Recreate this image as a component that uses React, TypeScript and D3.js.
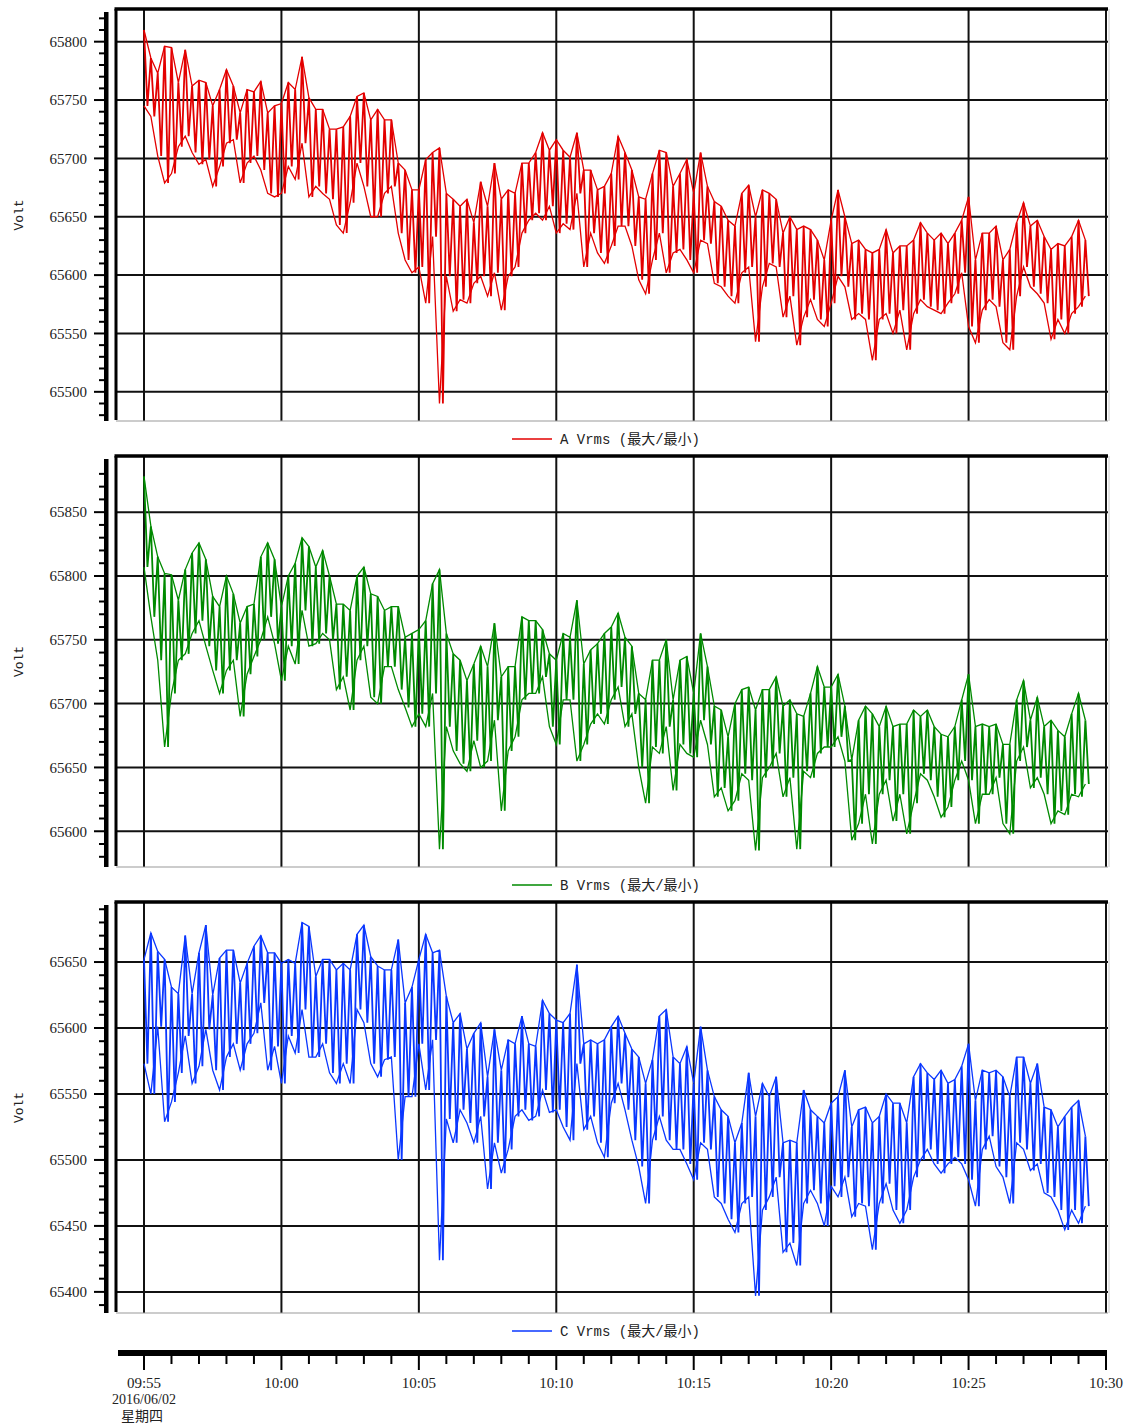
import React, { useEffect, useRef } from 'react';
import * as d3 from 'd3';

// sampling grid: one max/min pair every 15 s from 09:55:00
const startTime = new Date(2016, 5, 2, 9, 55, 0);
const endTime = new Date(2016, 5, 2, 10, 30, 0);
const sampleSeconds = 15;

const aMax = [
  65810, 65786, 65773, 65796, 65795, 65765, 65793, 65762,
  65767, 65765, 65745, 65759, 65776, 65762, 65739, 65759,
  65757, 65766, 65739, 65745, 65747, 65765, 65759, 65787,
  65752, 65742, 65742, 65725, 65725, 65727, 65736, 65753,
  65756, 65733, 65742, 65733, 65733, 65696, 65690, 65673,
  65673, 65699, 65705, 65709, 65670, 65665, 65659, 65665,
  65645, 65680, 65659, 65696, 65665, 65673, 65670, 65696,
  65696, 65705, 65722, 65707, 65716, 65707, 65701, 65722,
  65690, 65690, 65673, 65676,
  65687, 65719, 65705, 65690, 65667, 65665, 65687, 65707,
  65705, 65676, 65687, 65699, 65670, 65705, 65676, 65663,
  65659, 65647, 65642, 65670, 65677, 65650, 65673, 65670,
  65665, 65636, 65650, 65639, 65642, 65639, 65630, 65613,
  65647, 65673, 65650, 65627, 65630, 65622, 65619, 65622,
  65639, 65619, 65625, 65625, 65630, 65645, 65636, 65630,
  65636, 65627, 65636, 65647, 65667, 65613, 65636, 65636,
  65642, 65613, 65622, 65645, 65662, 65642, 65647, 65633,
  65622, 65627, 65625, 65633, 65647, 65630,
];
const aMin = [
  65745, 65736, 65702, 65679, 65687, 65710, 65719, 65705,
  65695, 65699, 65676, 65693, 65713, 65716, 65679, 65696,
  65702, 65690, 65670, 65667, 65670, 65693, 65682, 65713,
  65667, 65676, 65670, 65665, 65643, 65636, 65662, 65696,
  65676, 65650, 65650, 65670, 65676, 65636, 65613, 65602,
  65607, 65576, 65633, 65490, 65599, 65569, 65579, 65576,
  65593, 65599, 65582, 65602, 65570, 65599, 65607, 65636,
  65647, 65653, 65647, 65659, 65636, 65644, 65639, 65670,
  65607, 65636, 65619, 65610,
  65625, 65642, 65642, 65625, 65596, 65584, 65613, 65636,
  65602, 65619, 65622, 65613, 65602, 65630, 65627, 65593,
  65590, 65582, 65576, 65602, 65607, 65543, 65590, 65610,
  65607, 65564, 65582, 65540, 65564, 65579, 65562, 65556,
  65576, 65599, 65590, 65562, 65567, 65562, 65527, 65562,
  65567, 65550, 65570, 65536, 65567, 65579, 65573, 65570,
  65567, 65576, 65584, 65602, 65556, 65542, 65570, 65579,
  65573, 65542, 65536, 65582, 65607, 65590, 65584, 65576,
  65545, 65562, 65550, 65567, 65573, 65582,
];

const bMax = [
  65878, 65839, 65815, 65802, 65801, 65781, 65805, 65818,
  65826, 65813, 65784, 65776, 65800, 65786, 65763, 65776,
  65778, 65815, 65826, 65813, 65776, 65800, 65810, 65830,
  65823, 65807, 65820, 65800, 65778, 65778, 65773, 65800,
  65807, 65786, 65784, 65773, 65776, 65776, 65752, 65755,
  65758, 65765, 65794, 65805, 65755, 65739, 65734, 65718,
  65731, 65745, 65729, 65763, 65721, 65729, 65729, 65768,
  65765, 65765, 65758, 65739, 65734, 65755, 65752, 65781,
  65731, 65742, 65747, 65755,
  65760, 65771, 65752, 65745, 65708, 65703, 65734, 65734,
  65750, 65703, 65734, 65737, 65708, 65755, 65729, 65698,
  65695, 65674, 65700, 65711, 65713, 65695, 65711, 65711,
  65721, 65698, 65703, 65692, 65690, 65708, 65729, 65713,
  65713, 65723, 65698, 65656, 65687, 65698, 65692, 65682,
  65698, 65682, 65684, 65684, 65695, 65690, 65695, 65682,
  65676, 65674, 65682, 65703, 65723, 65682, 65684, 65682,
  65684, 65668, 65668, 65703, 65718, 65687, 65705, 65682,
  65687, 65679, 65674, 65692, 65708, 65687,
];
const bMin = [
  65807, 65768, 65734, 65666, 65708, 65734, 65739, 65755,
  65765, 65745, 65726, 65708, 65726, 65734, 65690, 65723,
  65737, 65750, 65768, 65747, 65718, 65745, 65731, 65773,
  65745, 65747, 65755, 65750, 65711, 65721, 65695, 65734,
  65745, 65705, 65700, 65729, 65729, 65711, 65697, 65682,
  65692, 65682, 65708, 65586, 65682, 65663, 65653, 65647,
  65671, 65650, 65655, 65687, 65616, 65663, 65674, 65703,
  65708, 65708, 65721, 65682, 65668, 65703, 65703, 65655,
  65668, 65684, 65692, 65684,
  65703, 65713, 65682, 65692, 65650, 65622, 65666, 65661,
  65682, 65632, 65668, 65661, 65658, 65687, 65668, 65627,
  65634, 65616, 65624, 65645, 65640, 65585, 65642, 65650,
  65661, 65627, 65642, 65586, 65647, 65642, 65661, 65666,
  65666, 65674, 65655, 65593, 65606, 65629, 65590, 65629,
  65640, 65608, 65629, 65598, 65622, 65645, 65640, 65627,
  65611, 65619, 65640, 65655, 65640, 65606, 65629, 65629,
  65642, 65606, 65598, 65655, 65666, 65634, 65642, 65629,
  65606, 65616, 65613, 65629, 65627, 65637,
];

const cMax = [
  65652, 65672, 65658, 65652, 65631, 65626, 65670, 65626,
  65657, 65678, 65625, 65653, 65659, 65659, 65634, 65649,
  65662, 65670, 65657, 65657, 65649, 65652, 65649, 65680,
  65677, 65639, 65652, 65652, 65644, 65649, 65644, 65671,
  65678, 65654, 65647, 65644, 65644, 65667, 65619, 65631,
  65652, 65671, 65657, 65659, 65624, 65604, 65611, 65584,
  65596, 65604, 65563, 65599, 65568, 65591, 65588, 65609,
  65588, 65586, 65621, 65611, 65606, 65604, 65611, 65648,
  65588, 65591, 65588, 65591,
  65601, 65609, 65596, 65584, 65578, 65558, 65576, 65609,
  65614, 65578, 65573, 65586, 65558, 65601, 65568, 65548,
  65538, 65533, 65513, 65528, 65566, 65533, 65558, 65548,
  65563, 65513, 65515, 65513, 65553, 65538, 65533, 65528,
  65543, 65548, 65568, 65525, 65538, 65540, 65528, 65533,
  65550, 65543, 65543, 65528, 65563, 65573, 65566, 65561,
  65568, 65558, 65561, 65571, 65588, 65545, 65568, 65566,
  65568, 65563, 65548, 65578, 65578, 65558, 65573, 65540,
  65538, 65525, 65533, 65540, 65545, 65518,
];
const cMin = [
  65573, 65550, 65601, 65529, 65544, 65566, 65594, 65558,
  65571, 65599, 65568, 65553, 65578, 65588, 65568, 65588,
  65596, 65619, 65568, 65586, 65558, 65594, 65581, 65614,
  65578, 65578, 65588, 65566, 65558, 65573, 65558, 65614,
  65604, 65573, 65563, 65576, 65578, 65500, 65548, 65548,
  65588, 65553, 65591, 65424, 65531, 65513, 65538, 65528,
  65513, 65533, 65478, 65513, 65490, 65508, 65533, 65538,
  65530, 65533, 65553, 65536, 65538, 65525, 65515, 65573,
  65523, 65533, 65513, 65502,
  65543, 65558, 65538, 65515, 65495, 65467, 65515, 65533,
  65515, 65508, 65508, 65497, 65485, 65513, 65508, 65472,
  65467, 65455, 65445, 65467, 65472, 65397, 65462, 65472,
  65487, 65430, 65437, 65420, 65467, 65477, 65467, 65450,
  65480, 65472, 65487, 65457, 65467, 65465, 65432, 65467,
  65482, 65462, 65452, 65462, 65487, 65500, 65508, 65497,
  65490, 65497, 65502, 65497, 65485, 65465, 65508, 65518,
  65495, 65487, 65467, 65513, 65508, 65492, 65497, 65475,
  65472, 65462, 65447, 65462, 65452, 65465,
];

const seriesNames = ['A Vrms (最大/最小)', 'B Vrms (最大/最小)', 'C Vrms (最大/最小)'];
const aTicks = [65500, 65550, 65600, 65650, 65700, 65750, 65800];
const bTicks = [65600, 65650, 65700, 65750, 65800, 65850];
const cTicks = [65400, 65450, 65500, 65550, 65600, 65650];
const dateLabel = '2016/06/02';
const weekdayLabel = '星期四';

const W = 1131;
const H = 1425;
const X0 = 116;
const X1 = 1108;

const numFont = '"Liberation Serif", "DejaVu Serif", serif';
const monoFont = '"Liberation Mono", "DejaVu Sans Mono", "Noto Sans CJK SC", monospace';

const App = () => {
  const ref = useRef<SVGSVGElement>(null);

  useEffect(() => {
    const svg = d3.select(ref.current);
    svg.selectAll('*').remove();

    const x = d3.scaleTime().domain([startTime, endTime]).range([144, 1106]);
    const time = (i: number) => new Date(startTime.getTime() + i * sampleSeconds * 1000);

    const panels = [
      { max: aMax, min: aMin, ticks: aTicks, domain: [65475, 65828], top: 9, bottom: 421, color: '#e30000', name: seriesNames[0] },
      { max: bMax, min: bMin, ticks: bTicks, domain: [65572, 65894], top: 456, bottom: 867, color: '#008a00', name: seriesNames[1] },
      { max: cMax, min: cMin, ticks: cTicks, domain: [65384, 65695.5], top: 902, bottom: 1313, color: '#0a37ff', name: seriesNames[2] },
    ];

    const fiveMin = d3.timeMinute.every(5)!.range(startTime, new Date(endTime.getTime() + 1));
    const everyMin = d3.timeMinute.range(startTime, new Date(endTime.getTime() + 1));

    panels.forEach((p, k) => {
      const y = d3.scaleLinear().domain(p.domain).range([p.bottom, p.top]);
      const g = svg.append('g');

      // grid
      g.selectAll('.hg').data(p.ticks).enter().append('line')
        .attr('x1', X0).attr('x2', X1)
        .attr('y1', d => y(d)).attr('y2', d => y(d))
        .attr('stroke', '#111').attr('stroke-width', 2);
      g.selectAll('.vg').data(fiveMin).enter().append('line')
        .attr('x1', d => x(d)).attr('x2', d => x(d))
        .attr('y1', p.top).attr('y2', p.bottom)
        .attr('stroke', '#111').attr('stroke-width', 2);

      const clipId = 'clip' + k;
      svg.append('clipPath').attr('id', clipId).append('rect')
        .attr('x', X0).attr('y', p.top).attr('width', X1 - X0).attr('height', p.bottom - p.top);
      const data = g.append('g').attr('clip-path', `url(#${clipId})`)
        .attr('fill', 'none').attr('stroke', p.color);

      // max trace and min trace
      const track = d3.line<number>()
        .x((_, i) => x(time(i))).y(d => y(d));
      data.append('path').attr('d', track(p.max)).attr('stroke-width', 1.3);
      data.append('path').attr('d', track(p.min)).attr('stroke-width', 1.3);

      // max then min of each window, joined into one zigzag trace
      const pts: [Date, number][] = [];
      p.max.forEach((v, i) => {
        pts.push([time(i), v]);
        pts.push([time(i + 0.5), p.min[i]]);
      });
      const zig = d3.line<[Date, number]>().x(d => x(d[0])).y(d => y(d[1]));
      data.append('path').datum(pts)
        .attr('d', zig)
        .attr('stroke-width', 1.8)
        .attr('stroke-linejoin', 'miter')
        .attr('stroke-miterlimit', 2);

      // frame
      g.append('line').attr('x1', X0).attr('x2', X1).attr('y1', p.bottom).attr('y2', p.bottom)
        .attr('stroke', '#9a9a9a').attr('stroke-width', 1.2);
      g.append('line').attr('x1', X1 + 1).attr('x2', X1 + 1).attr('y1', p.top).attr('y2', p.bottom)
        .attr('stroke', '#c8c8c8').attr('stroke-width', 1);
      g.append('line').attr('x1', X0 - 1.5).attr('x2', X1).attr('y1', p.top).attr('y2', p.top)
        .attr('stroke', '#000').attr('stroke-width', 3.5);
      g.append('line').attr('x1', X0).attr('x2', X0).attr('y1', p.top).attr('y2', p.bottom - 1)
        .attr('stroke', '#000').attr('stroke-width', 3);

      // y axis
      const minor = d3.range(Math.ceil(p.domain[0] / 10) * 10, p.domain[1] - 4, 10);
      g.append('rect').attr('x', 104).attr('y', p.top + 3).attr('width', 4.5).attr('height', p.bottom - p.top - 3)
        .attr('fill', '#000');
      g.selectAll('.mt').data(minor).enter().append('line')
        .attr('x1', d => (d % 50 === 0 ? 94 : 99)).attr('x2', 105)
        .attr('y1', d => y(d)).attr('y2', d => y(d))
        .attr('stroke', '#000').attr('stroke-width', 2);
      g.selectAll('.yl').data(p.ticks).enter().append('text')
        .attr('x', 87).attr('y', d => y(d)).attr('dy', '0.35em')
        .attr('text-anchor', 'end')
        .attr('font-family', numFont).attr('font-size', 15).attr('fill', '#222')
        .text(d => String(d));
      g.append('text')
        .attr('transform', `translate(23,${(p.top + p.bottom) / 2}) rotate(-90)`)
        .attr('text-anchor', 'middle')
        .attr('font-family', monoFont).attr('font-size', 13).attr('fill', '#222')
        .text('Volt');

      // legend
      const ly = p.bottom + 18;
      g.append('line').attr('x1', 512).attr('x2', 552).attr('y1', ly).attr('y2', ly)
        .attr('stroke', p.color).attr('stroke-width', 1.6);
      g.append('text').attr('x', 560).attr('y', ly + 5)
        .attr('font-family', monoFont).attr('font-size', 14).attr('fill', '#222')
        .text(p.name);
    });

    // bottom time axis
    const ax = svg.append('g');
    ax.append('rect').attr('x', 118).attr('y', 1350).attr('width', 1106 - 118 + 1).attr('height', 6).attr('fill', '#000');
    ax.selectAll('.xt').data(everyMin).enter().append('line')
      .attr('x1', d => x(d)).attr('x2', d => x(d))
      .attr('y1', 1355)
      .attr('y2', d => (d.getMinutes() % 5 === 0 ? 1370 : 1364))
      .attr('stroke', '#000').attr('stroke-width', 2);
    const fmt = d3.timeFormat('%H:%M');
    ax.selectAll('.xl').data(fiveMin).enter().append('text')
      .attr('x', d => x(d)).attr('y', 1388)
      .attr('text-anchor', 'middle')
      .attr('font-family', numFont).attr('font-size', 15).attr('fill', '#222')
      .text(d => fmt(d));
    ax.append('text').attr('x', x(startTime)).attr('y', 1404).attr('text-anchor', 'middle')
      .attr('font-family', numFont).attr('font-size', 14).attr('fill', '#222').text(dateLabel);
    ax.append('text').attr('x', x(startTime) - 2).attr('y', 1421).attr('text-anchor', 'middle')
      .attr('font-family', '"Noto Sans CJK SC", sans-serif').attr('font-size', 14).attr('fill', '#222').text(weekdayLabel);
  }, []);

  return (
    <svg
      ref={ref}
      width={W}
      height={H}
      style={{ position: 'absolute', left: 0, top: 0, background: '#fff' }}
    />
  );
};

export default App;
